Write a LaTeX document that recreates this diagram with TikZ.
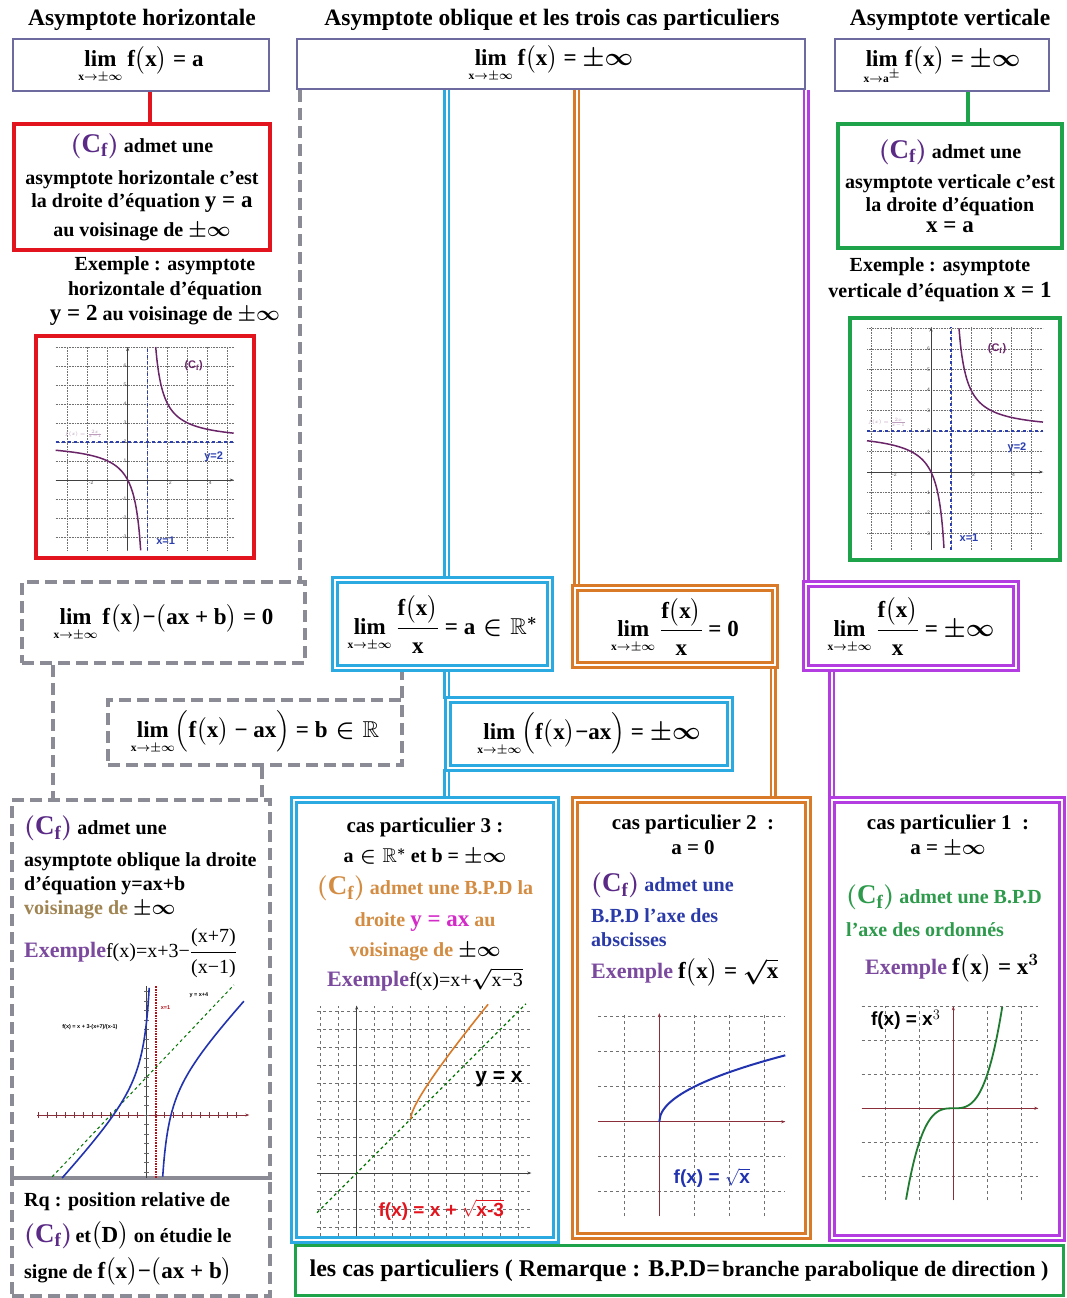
\documentclass[tikz,border=0pt]{standalone}
\usepackage{amsmath}
\usepackage{amssymb}
\usepackage{fontspec}
\setmainfont{Liberation Serif}
\newfontfamily\plotfont{Liberation Sans}
\usepackage{xcolor}
\usepackage{tikz}
\usetikzlibrary{positioning,arrows.meta,calc,backgrounds}
\definecolor{cTop}{HTML}{6C6A9E}
\definecolor{cRed}{HTML}{E2141D}
\definecolor{cGreen}{HTML}{1FA34A}
\definecolor{cGrey}{HTML}{8B8B95}
\definecolor{cCyan}{HTML}{2AAAE0}
\definecolor{cOrange}{HTML}{D97A28}
\definecolor{cPurple}{HTML}{B33DE0}
\definecolor{cCf}{HTML}{5A2A86}
\definecolor{cEx}{HTML}{7B4A9E}
\definecolor{cOrTxt}{HTML}{D38C42}
\definecolor{cMag}{HTML}{D42BC8}
\definecolor{cBlue}{HTML}{2A3AA8}
\definecolor{cGrTxt}{HTML}{2E9A4C}
\definecolor{cBrown}{HTML}{A08452}
\definecolor{cCurve}{HTML}{6A2468}
\definecolor{cAsym}{HTML}{2C3FB0}
\definecolor{cGridl}{HTML}{707070}
\definecolor{cCube}{HTML}{1E7B30}
\definecolor{cSqrt}{HTML}{2233B0}
\definecolor{cAxis}{HTML}{8A2E3A}
\newcommand\ttlfont{\fontsize{23.5}{26}\selectfont\bfseries}
\newcommand\txtfont{\fontsize{20}{24}\selectfont\bfseries\boldmath}
\newcommand\limfont{\fontsize{23}{26}\selectfont\bfseries\boldmath}
\newcommand\eqsz{\fontsize{23}{23}\selectfont}
\newcommand\exsz{\fontsize{22}{22}\selectfont}
\newcommand\ticksz{\plotfont\fontsize{5}{5}\selectfont}
\newcommand\pinf{\ensuremath{{\pm}\infty}}
\newcommand\limx[1][\text{x}\to\pm\infty]{\mathop{\text{lim}}\limits_{\scriptscriptstyle #1}}
\newcommand\fx{\text{f}\bigl(\text{x}\bigr)}
\newcommand\Cf[1][cCf]{{\fontsize{27}{27}\selectfont\color{#1}$\left(\text{C}_{\text{f}}\right)$}}
\tikzset{
  ttl/.style={font=\ttlfont,inner sep=0pt},
  txt/.style={font=\txtfont,align=center,inner sep=0pt},
  txtl/.style={font=\txtfont,align=left,inner sep=0pt},
  limbox/.style={draw=cTop,line width=2.5pt,font=\limfont,inner sep=2pt},
  rbox/.style={draw=cRed,line width=4pt,font=\txtfont,align=center,inner sep=1pt},
  gbox/.style={draw=cGreen,line width=4pt,font=\txtfont,align=center,inner sep=1pt},
  dbox/.style={draw=cGrey,line width=4pt,dash pattern=on 12pt off 6pt,font=\limfont},
  cbox/.style={draw=cCyan,double=white,line width=2.6pt,double distance=2pt,font=\limfont},
  obox/.style={draw=cOrange,double=white,line width=2.6pt,double distance=2pt,font=\limfont},
  pbox/.style={draw=cPurple,double=white,line width=2.6pt,double distance=2pt,font=\limfont},
  nbox/.style={draw=cGreen,line width=3pt},
  rline/.style={draw=cRed,line width=4pt},
  gline/.style={draw=cGreen,line width=4pt},
  dline/.style={draw=cGrey,line width=4pt,dash pattern=on 12pt off 6pt},
  cline/.style={draw=cCyan,double=white,line width=2.6pt,double distance=2pt},
  oline/.style={draw=cOrange,double=white,line width=2.6pt,double distance=2pt},
  pline/.style={draw=cPurple,double=white,line width=2.6pt,double distance=2pt},
  gridline/.style={cGridl,densely dotted,line width=0.6pt},
  gridlined/.style={cGridl,dashed,line width=0.6pt},
  axisline/.style={black!75,line width=0.8pt,-{Stealth[length=4pt]}},
  asymline/.style={cAsym,dashed,line width=1.3pt},
  hypcurve/.style={cCurve,line width=1.5pt},
  ticklbl/.style={font=\ticksz,inner sep=1pt,text=black!70},
  plotlbl/.style={font=\plotfont\bfseries\fontsize{11}{11}\selectfont,inner sep=0pt},
  biglbl/.style={font=\plotfont\bfseries\fontsize{21}{21}\selectfont,inner sep=0pt}}
% hyperbola 2x/(x-1), in its own units
\newcommand\hypgraph[4]{%
  \draw[gridline] (#1,#3) grid[step=1] (#2,#4);
  \draw[axisline] (#1,0) -- (#2,0);
  \draw[axisline] (0,#3) -- (0,#4);
  \draw[asymline] (1,#3) -- (1,#4);
  \draw[asymline] (#1,2) -- (#2,2);
  \draw[hypcurve,domain=#1:0.65,samples=60,smooth,variable=\x] plot (\x,{2*\x/(\x-1)});
  \draw[hypcurve,domain=1.4:#2,samples=60,smooth,variable=\x] plot (\x,{2*\x/(\x-1)});
  \foreach \tk in {-2,2,4} \node[ticklbl,below right] at (\tk,0) {\tk};
  \foreach \tk in {-3,-2,-1,1,2,3,4,5,6} \node[ticklbl,left] at (0,\tk) {\tk};
  \node[plotlbl,text=cCurve] at (3.3,6) {(C$_{\mathbf{f}}$)};
  \node[plotlbl,text=cAsym] at (4.3,1.2) {y=2};
  \node[plotlbl,text=cAsym] at (1.9,-3.2) {x=1};
  \node[ticklbl,text=cCurve!45] at (-2.2,2.4) {$f(x)=\frac{2x}{x-1}$};
}

\begin{document}
\begin{tikzpicture}[x=1pt,y=-1pt]
\useasboundingbox (0,0) rectangle (1067,1298);
% titles
\node[ttl] (tH) at (142,20) {Asymptote horizontale};
\node[ttl] (tO) at (552,20) {Asymptote oblique et les trois cas particuliers};
\node[ttl] (tV) at (950,20) {Asymptote verticale};
% limits on top
\node[limbox,minimum width=256pt,minimum height=52pt] (limH) at (141,65) {$\limx\fx\text{ = a}$};
\node[limbox,minimum width=508pt,minimum height=50pt] (limO) at (551,64) {$\limx\fx\text{ = }\pinf$};
\node[limbox,minimum width=214pt,minimum height=52pt] (limV) at (942,65) {$\limx[\text{x}\to\text{a}^{\pm}]\fx\text{ = }\pinf$};

% horizontal asymptote
\node[rbox,minimum width=256pt,minimum height=126pt,font=\fontsize{20}{26}\selectfont\bfseries\boldmath] (horiz) at (142,187) {\Cf{} admet une\\[6pt] asymptote horizontale c'est\\[-3pt] la droite d'équation {\eqsz y = a}\\[3pt] au voisinage de \pinf};
\node[txt,font=\fontsize{20}{25}\selectfont\bfseries\boldmath] (exH) at (165,291) {Exemple : asymptote\\ horizontale d'équation\\ {\eqsz y = 2} au voisinage de \pinf};
\node[rbox,minimum width=218pt,minimum height=222pt] (grH) at (145,447) {};
\begin{scope}[shift={(127.7,480)},x=20pt,y=19pt]
  \hypgraph{-3.6}{5.3}{-3.7}{7}
\end{scope}

% vertical asymptote
\node[gbox,minimum width=224pt,minimum height=124pt,font=\fontsize{20}{22}\selectfont\bfseries\boldmath] (vert) at (950,186) {\Cf{} admet une\\[8pt] asymptote verticale c'est\\[1pt] la droite d'équation\\[-1pt] {\eqsz x = a}};
\node[txt,font=\fontsize{20}{26}\selectfont\bfseries\boldmath] (exV) at (940,280) {Exemple : asymptote\\ verticale d'équation {\eqsz x = 1}};
\node[gbox,minimum width=210pt,minimum height=242pt] (grV) at (955,439) {};
\begin{scope}[shift={(931,472)},x=20pt,y=20.5pt]
  \hypgraph{-3.2}{5.6}{-3.8}{7.05}
\end{scope}

% oblique asymptote
\node[dbox,minimum width=283pt,minimum height=81pt] (ob1) at (163.5,622.5) {$\limx\fx\text{−}\bigl(\text{ax + b}\bigr)\text{ = 0}$};
\node[dbox,minimum width=294pt,minimum height=65pt] (ob2) at (255,732.5) {$\limx\Bigl(\fx\text{ − ax}\Bigr)\text{ = b}\in\mathbb{R}$};
\node[dbox,minimum width=258pt,minimum height=378pt] (obAs) at (141,989) {};
\node[dbox,minimum width=258pt,minimum height=118pt] (obRq) at (141,1237) {};
\node[txtl,anchor=north west] (asT) at (24,816) {\Cf{} admet une\\[8pt]
  asymptote oblique la droite\\
  d'équation y=ax+b\\
  {\color{cBrown}voisinage de} \pinf\\[8pt]
  {\color{cEx}\exsz Exemple}{\mdseries f(x)=x+3−}$\dfrac{\text{\mdseries (x+7)}}{\text{\mdseries (x−1)}}$};
\begin{scope}[shift={(146.7,1115)},x=9pt,y=9.5pt]
  \draw[cAxis,line width=1pt,-{Stealth[length=4pt]}] (-12.2,0) -- (11.4,0);
  \foreach \tk in {-12,...,10} \draw[cAxis,line width=0.6pt] (\tk,0.3) -- (\tk,-0.3);
  \draw[black!75,line width=0.8pt] (0,-6.6) -- (0,13.6);
  \foreach \tk in {-6,...,13} \draw[black!60,line width=0.5pt] (-0.25,\tk) -- (0.25,\tk);
  \draw[cRed!80!black,densely dotted,line width=1.6pt] (1,-6.6) -- (1,13.6);
  \draw[green!45!black,dashed,line width=1pt] (-10.5,-6.5) -- (9.7,13.7);
  \draw[cSqrt,line width=1.6pt,domain=-9.4:0.28,samples=80,smooth,variable=\x] plot (\x,{\x+3-(\x+7)/(\x-1)});
  \draw[cSqrt,line width=1.6pt,domain=1.78:10.8,samples=80,smooth,variable=\x] plot (\x,{\x+3-(\x+7)/(\x-1)});
  \node[ticklbl,text=black,font=\plotfont\bfseries\fontsize{5.5}{5.5}\selectfont] at (5.8,12.6) {y = x+4};
  \node[ticklbl,text=cRed!80!black,font=\plotfont\bfseries\fontsize{5.5}{5.5}\selectfont] at (2.1,11.3) {x=1};
  \node[ticklbl,text=black,font=\plotfont\bfseries\fontsize{5.5}{5.5}\selectfont] at (-6.3,9.3) {f(x) = x + 3-(x+7)/(x-1)};
\end{scope}
\node[txtl,anchor=north west,font=\fontsize{20}{36}\selectfont\bfseries\boldmath] (rqT) at (24,1192) {Rq : position relative de\\
  \Cf{}\,et{\eqsz$\bigl(\text{D}\bigr)$} on étudie le\\
  signe de {\eqsz$\fx\text{−}\bigl(\text{ax + b}\bigr)$}};

% special case 3
\node[cbox,minimum width=215pt,minimum height=88pt] (cy1) at (442.5,624) {$\limx\dfrac{\fx}{\text{x}}\text{ = a}\in\mathbb{R}^{*}$};
\node[cbox,minimum width=282pt,minimum height=68pt] (cy2) at (589,734) {$\limx\Bigl(\fx\text{−ax}\Bigr)\text{ = }\pinf$};
\node[cbox,minimum width=262pt,minimum height=440pt] (cy3) at (425,1020) {};
\node[txt,anchor=north,font=\fontsize{20}{32}\selectfont\bfseries\boldmath] (c3T) at (425,818) {{\fontsize{21}{21}\selectfont cas particulier 3 :}\\[-2pt]
  $\text{a}\in\mathbb{R}^{*}$ et b = \pinf\\
  \Cf[cOrTxt] {\color{cOrTxt}admet une B.P.D la}\\
  {\color{cOrTxt}droite {\color{cMag}\eqsz y = ax} au}\\[-2pt]
  {\color{cOrTxt}voisinage de} \pinf\\[-2pt]
  {\color{cEx}\exsz Exemple}{\mdseries f(x)=x+}$\sqrt{\text{\mdseries x−3}}$};
\begin{scope}[shift={(356.7,1173)},x=18pt,y=18pt]
  \draw[gridlined] (-2.2,-3.5) grid[step=1] (9.7,9.3);
  \draw[axisline] (-2.2,0) -- (9.7,0);
  \draw[axisline] (0,-3.5) -- (0,9.3);
  \draw[green!45!black,dashed,line width=1.2pt] (-2.2,-2.2) -- (9.4,9.4);
  \draw[cOrange,line width=1.6pt,domain=3:7.3,samples=80,smooth,variable=\x] plot (\x,{\x+sqrt(\x-3)});
  \node[biglbl] (lblyx) at (7.9,5.2) {y = x};
  \node[biglbl,text=cRed,font=\plotfont\bfseries\fontsize{19}{19}\selectfont] (lblf3) at (4.7,-2.05) {f(x) = x + $\sqrt{\mbox{x-3}}$};
\end{scope}

% special case 2
\node[obox,minimum width=200pt,minimum height=77pt] (or1) at (675,626.5) {$\limx\dfrac{\fx}{\text{x}}\text{ = 0}$};
\node[obox,minimum width=233pt,minimum height=436pt] (or2) at (691.5,1018) {};
\node[txt,anchor=north,font=\fontsize{21}{25}\selectfont\bfseries\boldmath] (c2H) at (693,815) {cas particulier 2\enspace:\\ a = 0};
\node[txtl,anchor=north west,font=\fontsize{20}{26}\selectfont\bfseries\boldmath] (c2T) at (591,873) {\Cf{} {\color{cBlue}admet une}\\[5pt]
  {\color{cBlue}B.P.D l'axe des}\\[-2pt]
  {\color{cBlue}abscisses}\\[6pt]
  {\color{cEx}\exsz Exemple} {\eqsz$\fx\text{ = }\sqrt{\text{x}}$}};
\begin{scope}[shift={(659.3,1121.7)},x=35pt,y=35pt]
  \draw[gridlined] (-1.75,-2.7) grid[step=1] (3.6,3.1);
  \draw[axisline,cAxis] (-1.75,0) -- (3.6,0);
  \draw[axisline,cAxis] (0,-2.7) -- (0,3.1);
  \draw[cSqrt,line width=2pt,domain=0:3.6,samples=100,smooth,variable=\x] plot (\x,{sqrt(\x)});
  \node[biglbl,text=cSqrt,font=\plotfont\bfseries\fontsize{19}{19}\selectfont] (lblf2) at (1.5,-1.6) {f(x) = $\sqrt{\mbox{x}}$};
\end{scope}

% special case 1
\node[pbox,minimum width=210pt,minimum height=84pt] (pu1) at (911,626) {$\limx\dfrac{\fx}{\text{x}}\text{ = }\pinf$};
\node[pbox,minimum width=230pt,minimum height=438pt] (pu2) at (947,1019) {};
\node[txt,anchor=north,font=\fontsize{21}{25}\selectfont\bfseries\boldmath] (c1H) at (948,815) {cas particulier 1\enspace:\\ a = \pinf};
\node[txtl,anchor=north west,font=\fontsize{20}{33}\selectfont\bfseries\boldmath] (c1T) at (846,885) {\Cf[cGrTxt] {\color{cGrTxt}admet une B.P.D}\\
  {\color{cGrTxt}l'axe des ordonnés}\\[5pt]
  \hspace*{19pt}{\color{cEx}\exsz Exemple} {\eqsz$\fx\text{ = x}^{3}$}};
\begin{scope}[shift={(953.3,1108.3)},x=34pt,y=34pt]
  \draw[gridlined] (-2.7,-2.7) grid[step=1] (2.5,3.0);
  \draw[axisline,cAxis] (-2.7,0) -- (2.5,0);
  \draw[axisline,cAxis] (0,-2.7) -- (0,3.0);
  \draw[cCube,line width=1.8pt,domain=-1.39:1.44,samples=80,smooth,variable=\x] plot (\x,{\x*\x*\x});
  \node[biglbl,font=\plotfont\bfseries\fontsize{19}{19}\selectfont] (lblf1) at (-1.4,2.6) {f(x) = x$^{3}$};
\end{scope}

% note
\node[nbox,minimum width=768pt,minimum height=50pt] (note) at (679,1270.5) {\bfseries{\fontsize{24}{22}\selectfont les cas particuliers ( Remarque : B.P.D=} {\fontsize{22}{20}\selectfont branche parabolique de direction )}};

% connectors
\begin{scope}[on background layer]
\fill[white] (0,0) rectangle (1067,1298);
\draw[rline] ([xshift=9pt]limH.south) -- ([xshift=9pt]limH.south |- horiz.north);
\draw[gline] ([xshift=26pt]limV.south) -- ([xshift=26pt]limV.south |- vert.north);
\draw[dline] ([xshift=4pt]limO.south west) -- ([xshift=4pt]limO.south west |- ob1.north);
\draw[dline] ([xshift=33pt]ob1.south west) -- ([xshift=33pt]ob1.south west |- obAs.north);
\draw[dline] ([xshift=-2pt]ob2.north east) -- ([xshift=-2pt]ob2.north east |- cy1.south);
\draw[dline] ([xshift=7pt]ob2.south) -- ([xshift=7pt]ob2.south |- obAs.north);
\draw[cline] (cy2.west |- limO.south) -- (cy2.west |- cy1.north);
\draw[cline] (cy2.west |- cy1.south) -- (cy2.north west);
\draw[cline] (cy2.south west) -- (cy2.south west |- cy3.north);
\draw[oline] ([xshift=3pt]or1.west |- limO.south) -- ([xshift=3pt]or1.north west);
\draw[oline] ([xshift=-3pt]or1.south east) -- ([xshift=-3pt]or1.south east |- or2.north);
\draw[pline] (limO.south east) -- (limO.south east |- pu1.north);
\draw[pline] ([xshift=27pt]pu1.south west) -- ([xshift=27pt]pu1.south west |- pu2.north);
\end{scope}
\end{tikzpicture}
\end{document}
